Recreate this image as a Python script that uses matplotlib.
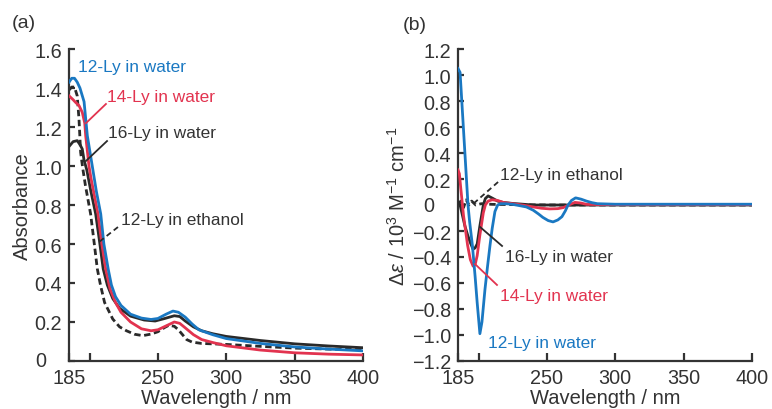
import matplotlib
matplotlib.use("Agg")
import matplotlib.pyplot as plt

plt.rcParams['font.family'] = ['Liberation Sans', 'DejaVu Sans']
plt.rcParams['mathtext.fontset'] = 'custom'
plt.rcParams['mathtext.rm'] = 'Liberation Sans'
plt.rcParams['mathtext.it'] = 'Liberation Sans:italic'

# ---------------- (a) absorption spectra ----------------
abs_12w_x = [185, 187, 189, 191, 193, 196, 198.4, 202, 205, 208.2, 210.5, 213.7, 216, 219, 223,
             230, 238, 245, 250, 256, 261, 265, 270, 275, 280, 290, 300, 325, 350, 375, 400]
abs_12w_y = [1.43, 1.45, 1.45, 1.43, 1.40, 1.33, 1.155, 1.0, 0.87, 0.754, 0.60, 0.47, 0.39, 0.33, 0.285,
             0.24, 0.22, 0.213, 0.218, 0.24, 0.256, 0.25, 0.225, 0.19, 0.16, 0.135, 0.115, 0.09, 0.072, 0.061, 0.052]

abs_14w_x = [185, 188, 190, 192.3, 194.7, 196.5, 197.2, 199.6, 201, 206.2, 209, 211.8, 215, 219, 223,
             230, 238, 245, 250, 256, 262, 266, 270, 276, 282, 290, 300, 325, 350, 375, 400]
abs_14w_y = [1.36, 1.34, 1.325, 1.31, 1.275, 1.22, 1.155, 1.0, 0.94, 0.754, 0.60, 0.472, 0.37, 0.30, 0.25,
             0.20, 0.165, 0.155, 0.16, 0.18, 0.20, 0.193, 0.17, 0.135, 0.11, 0.095, 0.078, 0.056, 0.042, 0.035, 0.031]

abs_16w_x = [185, 188, 191, 193, 194.7, 196, 198, 201, 204.5, 207, 210, 213, 217, 222,
             230, 240, 248, 255, 262, 266, 270, 276, 282, 290, 300, 325, 350, 375, 400]
abs_16w_y = [1.10, 1.125, 1.13, 1.11, 1.087, 1.03, 0.98, 0.87, 0.754, 0.63, 0.472, 0.39, 0.32, 0.27,
             0.23, 0.21, 0.205, 0.218, 0.232, 0.228, 0.205, 0.175, 0.155, 0.14, 0.126, 0.105, 0.088, 0.077, 0.068]

abs_12e_x = [185, 187, 189, 191, 192.3, 193.5, 195, 197, 200.8, 203.5, 205.7, 208, 211, 217, 222,
             227, 233, 239, 245, 250, 255, 258, 262, 265, 268, 271, 275, 282, 300, 325, 350, 375, 400]
abs_12e_y = [1.39, 1.405, 1.405, 1.36, 1.24, 1.07, 0.99, 0.90, 0.754, 0.60, 0.472, 0.39, 0.30, 0.215, 0.175,
             0.155, 0.137, 0.13, 0.138, 0.15, 0.172, 0.183, 0.178, 0.16, 0.135, 0.11, 0.097, 0.09, 0.085, 0.075, 0.066, 0.061, 0.058]

# ---------------- (b) CD spectra ----------------
cd_12w_x = [185, 186.5, 189, 192.3, 193.5, 195.5, 197.5, 199, 201, 202.5, 204.7, 206.5, 208.4, 210, 212,
            214, 216, 220, 225, 230, 235, 240, 244, 247, 251, 254.5, 258, 261, 263.5, 265.5, 268,
            271, 275, 279, 283, 287, 300, 400]
cd_12w_y = [1.05, 1.02, 0.58, 0.0, -0.13, -0.31, -0.55, -0.75, -0.99, -0.9, -0.65, -0.48, -0.31, -0.18, -0.05,
            0.0, 0.01, 0.01, 0.005, -0.005, -0.015, -0.04, -0.07, -0.095, -0.12, -0.13, -0.115, -0.09, -0.045, 0.0, 0.035,
            0.055, 0.045, 0.03, 0.018, 0.01, 0.006, 0.006]

cd_14w_x = [185, 186, 187, 189, 192, 194, 196, 197.5, 199, 201, 203.5, 205, 207, 210, 214, 218, 225,
            232, 240, 246, 252, 258, 262, 266, 270.5, 275, 279, 290, 400]
cd_14w_y = [0.27, 0.24, 0.13, -0.08, -0.31, -0.42, -0.47, -0.46, -0.39, -0.23, -0.06, 0.0, 0.03, 0.04, 0.035, 0.02, 0.01,
            0.0, -0.015, -0.025, -0.03, -0.028, -0.02, 0.0, 0.02, 0.015, 0.005, 0.003, 0.003]

cd_16w_x = [185, 186.5, 190, 192, 194, 196, 197.5, 199, 201, 203.5, 205, 207, 210.6, 214, 218, 225,
            240, 260, 280, 400]
cd_16w_y = [0.02, 0.0, -0.16, -0.23, -0.29, -0.34, -0.33, -0.30, -0.16, 0.0, 0.05, 0.07, 0.05, 0.03, 0.02, 0.012,
            0.0, 0.0, 0.0, 0.0]

cd_12e_x = [185, 187, 189, 191, 193, 195, 198, 202, 210, 250, 400]
cd_12e_y = [0.0, 0.03, -0.02, 0.04, 0.0, 0.03, 0.0, 0.01, 0.005, 0.0, 0.0]

x_ticks = [185, 200, 250, 300, 350, 400]
x_tick_labels = ['185', '', '250', '300', '350', '400']
abs_ticks = [0, 0.2, 0.4, 0.6, 0.8, 1.0, 1.2, 1.4, 1.6]
abs_tick_labels = ['', '0.2', '0.4', '0.6', '0.8', '1.0', '1.2', '1.4', '1.6']
cd_ticks = [-1.2, -1.0, -0.8, -0.6, -0.4, -0.2, 0, 0.2, 0.4, 0.6, 0.8, 1.0, 1.2]
cd_tick_labels = ['\u22121.2', '\u22121.0', '\u22120.8', '\u22120.6', '\u22120.4', '\u22120.2', '',
                  '0.2', '0.4', '0.6', '0.8', '1.0', '1.2']

BLUE = '#1a78c2'
RED = '#e2334f'
BLACK = '#2a2a2a'
AXC = '#333333'
LW = 2.0
DASH = (2.3, 1.3)
TICK_FS = 14.3

fig = plt.figure(figsize=(7.72, 4.10), dpi=100)
axa = fig.add_axes([0.0894, 0.1171, 0.3808, 0.7609])
axb = fig.add_axes([0.5933, 0.1171, 0.3807, 0.7609])


def style(ax):
    for s in ('top', 'right'):
        ax.spines[s].set_visible(False)
    for s in ('left', 'bottom'):
        ax.spines[s].set_linewidth(1.6)
        ax.spines[s].set_color(AXC)
    ax.tick_params(direction='in', width=1.6, color=AXC, labelcolor=AXC, labelsize=TICK_FS, pad=5)
    ax.tick_params(axis='x', length=6)
    ax.tick_params(axis='y', length=4.5)
    ax.set_xlim(185, 400)
    ax.set_xticks(x_ticks)
    ax.set_xticklabels(x_tick_labels)
    ax.set_xlabel('Wavelength / nm', fontsize=14.5, color=AXC, labelpad=1)


def zero_label(ax, offset_px):
    # the "0" sits in the units column, left-aligned with the other labels
    ax.annotate('0', xy=(0, 0), xycoords=('axes fraction', 'data'),
                xytext=(-offset_px * 0.72, 0), textcoords='offset points',
                ha='left', va='center', fontsize=TICK_FS, color=AXC, annotation_clip=False)


style(axa)
axa.set_ylim(0, 1.6)
axa.set_yticks(abs_ticks)
axa.set_yticklabels(abs_tick_labels)
axa.set_ylabel('Absorbance', fontsize=14.5, color=AXC, labelpad=2)
zero_label(axa, 34)

axa.plot(abs_12e_x, abs_12e_y, color=BLACK, lw=LW, dashes=DASH, zorder=2)
axa.plot(abs_16w_x, abs_16w_y, color=BLACK, lw=LW, zorder=3)
axa.plot(abs_14w_x, abs_14w_y, color=RED, lw=LW, zorder=4)
axa.plot(abs_12w_x, abs_12w_y, color=BLUE, lw=LW, zorder=5)

ann = dict(fontsize=12.4, va='center', ha='left')
axa.text(191.6, 1.508, '12-Ly in water', color=BLUE, **ann)
axa.text(212.5, 1.359, '14-Ly in water', color=RED, **ann)
axa.plot([212, 197.4], [1.318, 1.22], color=RED, lw=1.3, zorder=6)
axa.text(213.3, 1.174, '16-Ly in water', color=AXC, **ann)
axa.plot([212.8, 197.4], [1.128, 1.026], color=BLACK, lw=1.3, zorder=6)
axa.text(222.8, 0.728, '12-Ly in ethanol', color=AXC, **ann)
axa.plot([220.8, 206.9], [0.687, 0.61], color=BLACK, lw=1.3, dashes=(3, 2), zorder=6)

style(axb)
axb.set_ylim(-1.2, 1.2)
axb.set_yticks(cd_ticks)
axb.set_yticklabels(cd_tick_labels)
axb.set_ylabel(r'$\mathit{\Delta\varepsilon}$ / 10$^{3}$ M$^{-1}$ cm$^{-1}$',
               fontsize=14.5, color=AXC, labelpad=2)
zero_label(axb, 35)

axb.plot(cd_12e_x, cd_12e_y, color=BLACK, lw=LW, dashes=DASH, zorder=2)
axb.plot(cd_16w_x, cd_16w_y, color=BLACK, lw=LW, zorder=3)
axb.plot(cd_14w_x, cd_14w_y, color=RED, lw=LW, zorder=4)
axb.plot(cd_12w_x, cd_12w_y, color=BLUE, lw=LW, zorder=5)

axb.text(215.7, 0.238, '12-Ly in ethanol', color=AXC, **ann)
axb.plot([214.3, 196], [0.177, 0.008], color=BLACK, lw=1.3, dashes=(3, 2), zorder=6)
axb.text(219.4, -0.40, '16-Ly in water', color=AXC, **ann)
axb.plot([217.2, 201.1], [-0.315, -0.169], color=BLACK, lw=1.3, zorder=6)
axb.text(215.7, -0.70, '14-Ly in water', color=RED, **ann)
axb.plot([213.5, 197.4], [-0.615, -0.454], color=RED, lw=1.3, zorder=6)
axb.text(207, -1.054, '12-Ly in water', color=BLUE, **ann)

fig.text(12 / 772, 1 - 24 / 410, '(a)', fontsize=14, color=AXC, va='center', ha='left')
fig.text(403 / 772, 1 - 25 / 410, '(b)', fontsize=14, color=AXC, va='center', ha='left')

fig.savefig('out.png', dpi=100)
